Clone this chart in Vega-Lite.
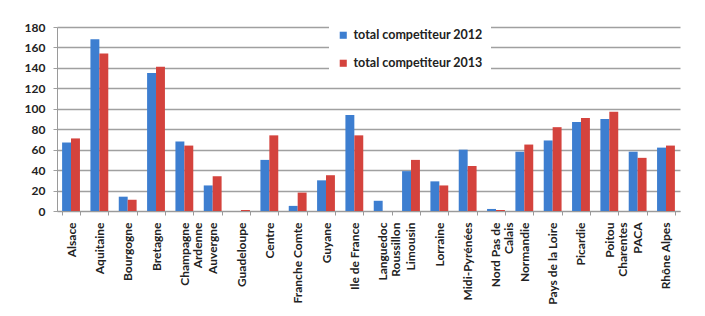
{
  "$schema": "https://vega.github.io/schema/vega-lite/v6.json",
  "width": 623,
  "height": 184,
  "autosize": {"type": "none"},
  "padding": {"left": 57, "top": 27, "right": 25, "bottom": 105},
  "background": "white",
  "config": {
    "view": {"stroke": null},
    "font": "Lato",
    "axis": {"labelFont": "Lato", "labelFontWeight": "bold", "labelColor": "#222222", "labelFontSize": 12}
  },
  "data": {
    "values": [
      {"region": "Alsace", "serie": "total competiteur 2012", "value": 67},
      {"region": "Alsace", "serie": "total competiteur 2013", "value": 71},
      {"region": "Aquitaine", "serie": "total competiteur 2012", "value": 168},
      {"region": "Aquitaine", "serie": "total competiteur 2013", "value": 154},
      {"region": "Bourgogne", "serie": "total competiteur 2012", "value": 14},
      {"region": "Bourgogne", "serie": "total competiteur 2013", "value": 11},
      {"region": "Bretagne", "serie": "total competiteur 2012", "value": 135},
      {"region": "Bretagne", "serie": "total competiteur 2013", "value": 141},
      {"region": "Champagne Ardenne", "serie": "total competiteur 2012", "value": 68},
      {"region": "Champagne Ardenne", "serie": "total competiteur 2013", "value": 64},
      {"region": "Auvergne", "serie": "total competiteur 2012", "value": 25},
      {"region": "Auvergne", "serie": "total competiteur 2013", "value": 34},
      {"region": "Guadeloupe", "serie": "total competiteur 2012", "value": 0},
      {"region": "Guadeloupe", "serie": "total competiteur 2013", "value": 1},
      {"region": "Centre", "serie": "total competiteur 2012", "value": 50},
      {"region": "Centre", "serie": "total competiteur 2013", "value": 74},
      {"region": "Franche Comte", "serie": "total competiteur 2012", "value": 5},
      {"region": "Franche Comte", "serie": "total competiteur 2013", "value": 18},
      {"region": "Guyane", "serie": "total competiteur 2012", "value": 30},
      {"region": "Guyane", "serie": "total competiteur 2013", "value": 35},
      {"region": "Ile de France", "serie": "total competiteur 2012", "value": 94},
      {"region": "Ile de France", "serie": "total competiteur 2013", "value": 74},
      {"region": "Languedoc Roussillon", "serie": "total competiteur 2012", "value": 10},
      {"region": "Languedoc Roussillon", "serie": "total competiteur 2013", "value": 0},
      {"region": "Limousin", "serie": "total competiteur 2012", "value": 39},
      {"region": "Limousin", "serie": "total competiteur 2013", "value": 50},
      {"region": "Lorraine", "serie": "total competiteur 2012", "value": 29},
      {"region": "Lorraine", "serie": "total competiteur 2013", "value": 25},
      {"region": "Midi-Pyrénées", "serie": "total competiteur 2012", "value": 60},
      {"region": "Midi-Pyrénées", "serie": "total competiteur 2013", "value": 44},
      {"region": "Nord Pas de Calais", "serie": "total competiteur 2012", "value": 2},
      {"region": "Nord Pas de Calais", "serie": "total competiteur 2013", "value": 1},
      {"region": "Normandie", "serie": "total competiteur 2012", "value": 58},
      {"region": "Normandie", "serie": "total competiteur 2013", "value": 65},
      {"region": "Pays de la Loire", "serie": "total competiteur 2012", "value": 69},
      {"region": "Pays de la Loire", "serie": "total competiteur 2013", "value": 82},
      {"region": "Picardie", "serie": "total competiteur 2012", "value": 87},
      {"region": "Picardie", "serie": "total competiteur 2013", "value": 91},
      {"region": "Poitou Charentes", "serie": "total competiteur 2012", "value": 90},
      {"region": "Poitou Charentes", "serie": "total competiteur 2013", "value": 97},
      {"region": "PACA", "serie": "total competiteur 2012", "value": 58},
      {"region": "PACA", "serie": "total competiteur 2013", "value": 52},
      {"region": "Rhône Alpes", "serie": "total competiteur 2012", "value": 62},
      {"region": "Rhône Alpes", "serie": "total competiteur 2013", "value": 64}
    ]
  },
  "mark": {"type": "bar"},
  "encoding": {
    "x": {
      "field": "region",
      "type": "nominal",
      "sort": null,
      "title": null,
      "scale": {"paddingInner": 0.37, "paddingOuter": 0.18},
      "axis": {
        "labelAngle": -90,
        "labelAlign": "right",
        "labelBaseline": "middle",
        "labelPadding": 7,
        "labelLineHeight": 13,
        "labelLimit": 120,
        "tickBand": "extent",
        "tickSize": 4,
        "tickColor": "#9a9a9a",
        "domainColor": "#9a9a9a",
        "labelExpr": "indexof(['Champagne Ardenne','Languedoc Roussillon','Poitou Charentes'], datum.label) >= 0 ? split(datum.label, ' ') : (datum.label == 'Nord Pas de Calais' ? ['Nord Pas de', 'Calais'] : datum.label)"
      }
    },
    "xOffset": {"field": "serie", "type": "nominal", "scale": {"paddingInner": 0, "paddingOuter": 0}},
    "y": {
      "field": "value",
      "type": "quantitative",
      "title": null,
      "scale": {"domain": [0, 180], "nice": false},
      "axis": {
        "values": [0, 20, 40, 60, 80, 100, 120, 140, 160, 180],
        "grid": true,
        "gridColor": "#a0a0a0",
        "gridWidth": 1.5,
        "tickSize": 4,
        "tickColor": "#a0a0a0",
        "domainColor": "#9a9a9a",
        "labelPadding": 8
      }
    },
    "color": {
      "field": "serie",
      "type": "nominal",
      "scale": {"domain": ["total competiteur 2012", "total competiteur 2013"], "range": ["#3d7ed0", "#d4433d"]},
      "legend": {
        "title": null,
        "orient": "none",
        "legendX": 272,
        "legendY": -6,
        "padding": 8,
        "fillColor": "white",
        "symbolType": "square",
        "symbolSize": 50,
        "symbolStrokeWidth": 0,
        "labelFont": "Lato",
        "labelFontSize": 12.5,
        "labelFontWeight": "bold",
        "labelColor": "#222222",
        "labelOffset": 4,
        "rowPadding": 15
      }
    }
  }
}
